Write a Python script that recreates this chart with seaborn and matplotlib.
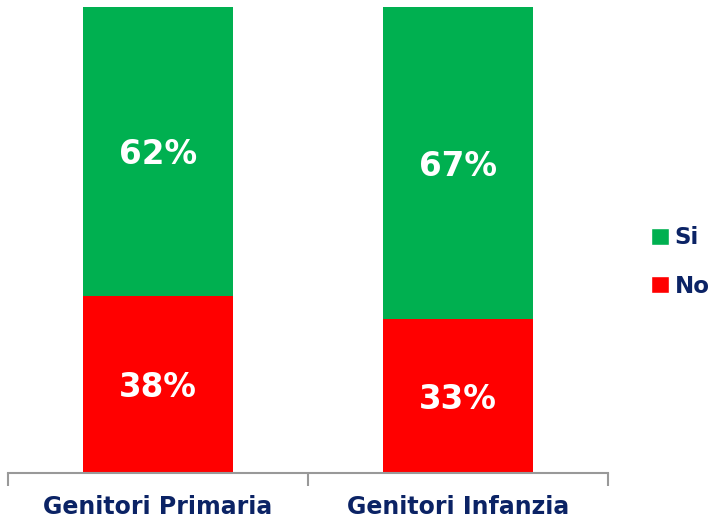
import matplotlib
matplotlib.use("Agg")
import matplotlib.pyplot as plt
import seaborn as sns
import pandas as pd
from matplotlib.patches import Patch

categories = ["Genitori Primaria", "Genitori Infanzia"]
si_values = [62, 67]
no_values = [38, 33]

sns.set_style("white")
plt.rcParams['font.family'] = ['DejaVu Sans']

navy = "#0B2365"
green = "#00B050"
red = "#FF0000"

df = pd.DataFrame({"cat": categories, "si": si_values, "no": no_values})
df["total"] = df["si"] + df["no"]

fig = plt.figure(figsize=(7.12, 5.23), dpi=100)
ax = fig.add_axes([8/712, 50/523, 600/712, 466/523])

sns.barplot(data=df, x="cat", y="total", color=green, width=0.5, ax=ax,
            saturation=1, order=categories, linewidth=0)
sns.barplot(data=df, x="cat", y="no", color=red, width=0.5, ax=ax,
            saturation=1, order=categories, linewidth=0)

for i, (s, n) in enumerate(zip(si_values, no_values)):
    ax.text(i, n + s / 2 - 0.7, f"{s}%", ha="center", va="center", color="white",
            fontsize=23.5, fontweight="bold")
    ax.text(i, n / 2 - 0.7, f"{n}%", ha="center", va="center", color="white",
            fontsize=23.5, fontweight="bold")

ax.set_xlim(-0.5, 1.5)
ax.set_ylim(0, 100)
ax.set_xlabel("")
ax.set_ylabel("")
ax.set_yticks([])
for side in ["top", "right", "left"]:
    ax.spines[side].set_visible(False)
ax.spines["bottom"].set_color("#999999")
ax.spines["bottom"].set_linewidth(1.5)

ax.set_xticks([-0.5, 0.5, 1.5], minor=False)
ax.set_xticklabels([])
ax.tick_params(axis="x", which="major", length=9, width=1.5, color="#999999",
               direction="out", bottom=True)
ax.set_xticks([0, 1], minor=True)
ax.set_xticklabels(categories, minor=True, fontsize=17, fontweight="bold",
                   color=navy)
ax.tick_params(axis="x", which="minor", length=0, pad=16)

handles = [Patch(facecolor=green, label="Si"), Patch(facecolor=red, label="No")]
leg = fig.legend(handles=handles, loc="center left", bbox_to_anchor=(651/712, 261/523),
                 frameon=False, borderpad=0, borderaxespad=0,
                 handlelength=0.78, handleheight=0.78,
                 handletextpad=0.25, labelspacing=1.1,
                 prop={"weight": "bold", "size": 16.5})
for t in leg.get_texts():
    t.set_color(navy)

fig.savefig("out.png", dpi=100)
